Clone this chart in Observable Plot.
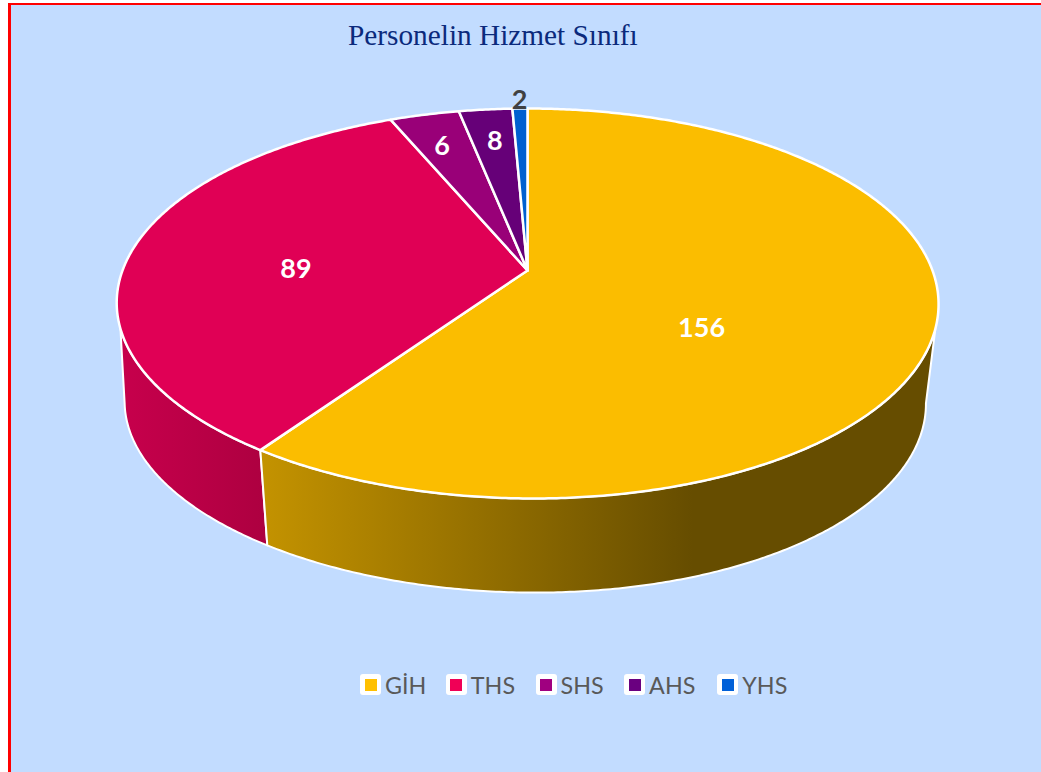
<!DOCTYPE html>
<html lang="tr">
<head>
<meta charset="utf-8">
<script src="https://cdn.jsdelivr.net/npm/d3@7"></script>
<script src="https://cdn.jsdelivr.net/npm/@observablehq/plot@0.6"></script>
<style>
html,body{margin:0;padding:0;background:#fff;overflow:hidden;width:1041px;height:772px}
#panel{position:absolute;left:8px;top:3px;width:1033px;height:769px;box-sizing:border-box;background:#C2DCFF;border-left:3px solid #f00;border-top:2px solid #f00;overflow:hidden}
#title{height:55px;box-sizing:border-box;padding:14px 0 0 337px;font:29.3px "Liberation Serif",serif;color:#0B2A7C;line-height:32px;white-space:nowrap}
#chart svg{display:block;background:transparent}
#legend{display:flex;margin:26.5px 0 0 349px;height:36px;align-items:center;font:23.3px Lato,sans-serif;color:#595959}
.item{display:flex;align-items:center}
.sw{width:21px;height:21px;background:#fff;border-radius:3px;display:flex;align-items:center;justify-content:center;margin-right:4px}
.sw i{display:block;width:12px;height:12px}
</style>
</head>
<body>
<div id="panel">
  <div id="title"></div>
  <div id="chart"></div>
  <div id="legend"></div>
</div>
<script>
const chartTitle = "Personelin Hizmet Sınıfı";
const categories = ["GİH", "THS", "SHS", "AHS", "YHS"];
// numbers printed on the slices
const labels = [156, 89, 6, 8, 2];
// wedge angles in degrees (the wedge printed 6 is wider than the one printed 8)
const wedgeAngles = [215.2, 121.8, 11.6, 8.9, 2.5];
const colors = ["#FBBD00", "#E00055", "#990078", "#660078", "#0060D0"];
const legendColors = ["#FFC000", "#F00056", "#A00080", "#6A0080", "#0060D8"];
const labelColors = ["#fff", "#fff", "#fff", "#fff", "#404040"];
const labelNudge = [[-65, 22], [7.5, 11], [-20, -25], [-6, -27], [-3, -67]];
const legendGaps = [19.5, 20.5, 20.5, 22, 0];

// Perspective disc: unit circle seen from above, near edge larger
const persp = 0.1692;
const lowerScale = 0.975;
const lowerDrop = 0.527;   // drop of the lower rim, in depth units
const lowerShift = -0.006; // the lower rim sits slightly left of the upper one
const skewUpper = 0.0103, skewLower = 0.0175; // the near edge leans a little to the right
function upperRim(theta, r = 1) {
  const u = Math.sin(theta) * r, v = Math.cos(theta) * r, w = 1 + persp * v;
  const y = v / w;
  return {x: u / w + skewUpper * Math.min(y, 0) ** 2, y};
}
function lowerRim(theta) {
  const v = Math.cos(theta), w = 1 + persp * v, y = v / w;
  return {
    x: Math.sin(theta) / w * lowerScale + lowerShift + skewLower * Math.min(y, 0) ** 2,
    y: y * lowerScale - lowerDrop
  };
}
const rad = d => d * Math.PI / 180;
let acc = 0;
const slices = categories.map((name, i) => {
  const a0 = rad(acc); acc += wedgeAngles[i];
  return {name, i, a0, a1: rad(acc)};
});
function arc(a0, a1, f) {
  const n = Math.max(2, Math.ceil(Math.abs(a1 - a0) / rad(0.5)));
  return d3.range(n + 1).map(k => f(a0 + (a1 - a0) * k / n));
}
const facePoints = slices.flatMap(s =>
  [{x: 0, y: 0}, ...arc(s.a0, s.a1, upperRim)].map(p => ({...p, name: s.name})));

// Side wall: visible part of the rim; silhouette tangents differ on the two rims
const [topR, botR, botL, topL] = [rad(107), rad(100), rad(260), rad(253)];
const wallA = [...arc(topR, slices[0].a1, upperRim), ...arc(slices[0].a1, botR, lowerRim)];
const wallB = [...arc(slices[1].a0, topL, upperRim), ...arc(botL, slices[1].a0, lowerRim)];

const labelPoints = slices.map((s, i) => ({...upperRim((s.a0 + s.a1) / 2, 0.6), text: String(labels[i]), i}));

const W = 1030, H = 580;
const pxX = 405, pxY = 189.4, apexX = 516, apexY = 210;

const defs = () => d3.create("svg:defs").html(`
<linearGradient id="wallGold" x1="0" x2="1" y1="0" y2="0">
  <stop offset="0" stop-color="#C49300"/><stop offset="0.64" stop-color="#664D00"/><stop offset="1" stop-color="#664D00"/>
</linearGradient>
<linearGradient id="wallRed" x1="0" x2="1" y1="0" y2="0">
  <stop offset="0" stop-color="#C7004C"/><stop offset="1" stop-color="#AD0040"/>
</linearGradient>`).node();

const wallMark = (pts, fill) => Plot.line(pts, {x: "x", y: "y", fill, stroke: "#fff", strokeWidth: 2, strokeLinejoin: "round", curve: "linear-closed"});

const plot = Plot.plot({
  width: W, height: H, margin: 0,
  style: {background: "transparent"},
  x: {domain: [-apexX / pxX, (W - apexX) / pxX], axis: null},
  y: {domain: [(apexY - H) / pxY, apexY / pxY], axis: null},
  color: {domain: categories, range: colors},
  marks: [
    defs,
    wallMark(wallB, "url(#wallRed)"),
    wallMark(wallA, "url(#wallGold)"),
    Plot.line(facePoints, {x: "x", y: "y", z: "name", fill: "name", stroke: "#fff", strokeWidth: 2.5, strokeLinejoin: "round", curve: "linear-closed"}),
    ...labelPoints.map(p => Plot.text([p], {
      x: "x", y: "y", text: "text", dx: labelNudge[p.i][0], dy: labelNudge[p.i][1],
      fill: labelColors[p.i], fontSize: 27, fontWeight: 700, fontFamily: "Lato, sans-serif"
    }))
  ]
});
document.getElementById("chart").append(plot);
document.getElementById("title").textContent = chartTitle;
const legend = d3.select("#legend");
categories.forEach((c, i) => {
  const it = legend.append("div").attr("class", "item").style("margin-right", legendGaps[i] + "px");
  it.append("span").attr("class", "sw").append("i").style("background", legendColors[i]);
  it.append("span").text(c);
});
</script>
</body>
</html>
